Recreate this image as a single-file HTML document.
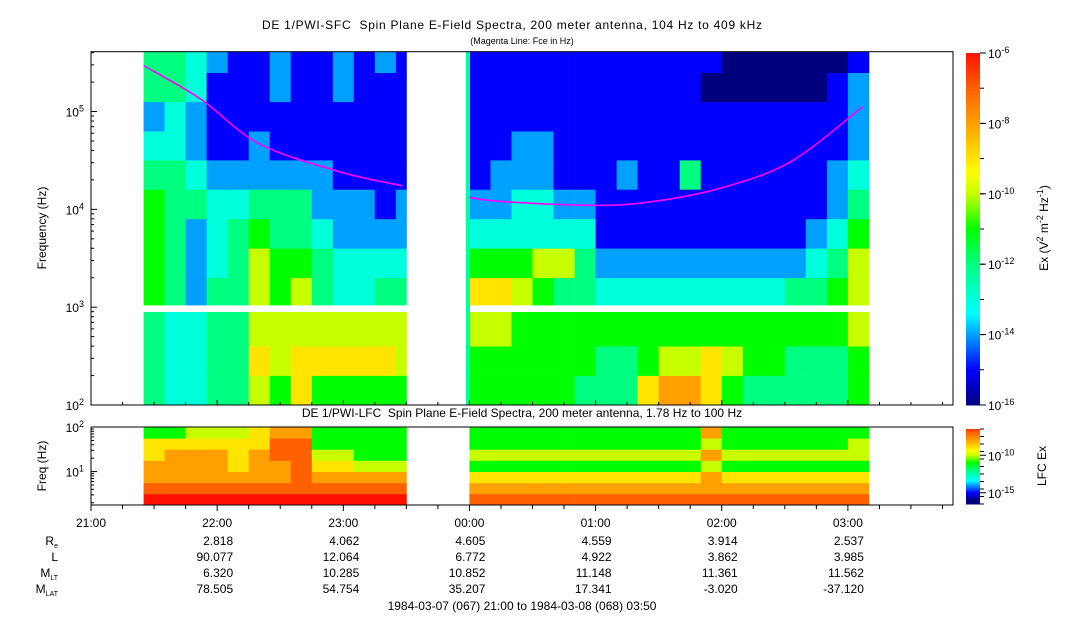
<!DOCTYPE html>
<html><head><meta charset="utf-8">
<style>
html,body{margin:0;padding:0;background:#fff;}
svg{display:block;font-family:"Liberation Sans",Arial,sans-serif;}
</style></head>
<body>
<svg id="chart" width="1083" height="620" viewBox="0 0 1083 620" xmlns="http://www.w3.org/2000/svg">
<rect x="0" y="0" width="1083" height="620" fill="#fff"/>
<text x="262" y="29" textLength="500" lengthAdjust="spacing" font-size="12">DE 1/PWI-SFC&#160; Spin Plane E-Field Spectra, 200 meter antenna, 104 Hz to 409 kHz</text>
<text x="522" y="44" text-anchor="middle" font-size="9">(Magenta Line: Fce in Hz)</text>
<text x="522" y="417" text-anchor="middle" font-size="12">DE 1/PWI-LFC&#160; Spin Plane E-Field Spectra, 200 meter antenna, 1.78 Hz to 100 Hz</text>
<text transform="translate(46,228) rotate(-90)" text-anchor="middle" font-size="12">Frequency (Hz)</text>
<text transform="translate(46,466) rotate(-90)" text-anchor="middle" font-size="12">Freq (Hz)</text>
<text transform="translate(1048,228) rotate(-90)" text-anchor="middle" font-size="12">Ex (V<tspan dy="-5" font-size="9">2</tspan><tspan dy="5"> m</tspan><tspan dy="-5" font-size="9">-2</tspan><tspan dy="5"> Hz</tspan><tspan dy="-5" font-size="9">-1</tspan><tspan dy="5">)</tspan></text>
<text transform="translate(1046,466) rotate(-90)" text-anchor="middle" font-size="12">LFC Ex</text>
<g id="layer"></g>
</svg>
<script>
// ---- data ----
const seg1Edges = [25,35,45,55,65,75,85,95,105,115,125,135,145,150]; // minutes after 21:00
const seg2Edges = [180,190,200,210,220,230,240,250,260,270,280,290,300,310,320,330,340,350,360,370];
const topBandEdges = [100,200,400,1000,2000,4000,8000,16000,32000,63000,126000,250000,409000];
// rows from lowest band to highest; digit d -> log10 power = -16 + d
const seg1Top = [
 "4334465755555",
 "4334476777776",
 "4334466666666",
 "5424465643344",
 "5423465543333",
 "5423454432222",
 "5443344422212",
 "4432222221111",
 "3321121111111",
 "2321111111111",
 "4431112112111",
 "4432112112121"
];
const seg2Top = [
 "5555544478875444445",
 "5555554456676554445",
 "6655555555555555556",
 "7765443333333334456",
 "5556642222222222346",
 "3333331111111111235",
 "2233221111111111124",
 "1222111211411111123",
 "1122111111111111112",
 "1111111111111111112",
 "1111111111100000012",
 "1111111111110000001"
];
const lfcBandEdges = [1.78,3.16,5.62,10,17.8,31.6,56.2,100];
const seg1Lfc = [
 "aaaaaaaaaaaaa",
 "9999999999999",
 "8888888988888",
 "8888788977666",
 "7888789966555",
 "7777779955555",
 "5566678855555"
];
const seg2Lfc = [
 "9999999999999999999",
 "8888888888888888888",
 "7777777777787777777",
 "5555555555565555555",
 "6666666666686666666",
 "5555555555565555556",
 "5555555555585555555"
];
const fceTimes = [25,52,80,119,148,180,196,240,267,300,333,367];
const fceFreqs = [295000,135000,46800,24000,17400,13200,12000,11000,12000,16600,30900,112000];
const timeTicks = ["21:00","22:00","23:00","00:00","01:00","02:00","03:00"];
const rowNames = ["R","L","M","M"];
const rowSubs = ["e","","LT","LAT"];
const ephemRe = ["2.818","4.062","4.605","4.559","3.914","2.537"];
const ephemL = ["90.077","12.064","6.772","4.922","3.862","3.985"];
const ephemMLT = ["6.320","10.285","10.852","11.148","11.361","11.562"];
const ephemMLAT = ["78.505","54.754","35.207","17.341","-3.020","-37.120"];

// ---- geometry ----
const X0=91, X1=953, TMAX=410;
const xs = t => X0 + (X1-X0)*t/TMAX;
const TY0=405, TY1=51.7, TL0=2, TL1=Math.log10(409000);
const ysTop = f => TY0 - (Math.log10(f)-TL0)/(TL1-TL0)*(TY0-TY1);
const BY0=505, BY1=427, BL0=Math.log10(1.78), BL1=2;
const ysBot = f => BY0 - (Math.log10(f)-BL0)/(BL1-BL0)*(BY0-BY1);
const stops=[[-16,[0,0,127]],[-15,[0,0,255]],[-14,[0,160,255]],[-13.4,[0,255,255]],[-12,[0,255,128]],[-11,[0,255,0]],[-10,[200,255,0]],[-9.4,[255,255,0]],[-8,[255,160,0]],[-7,[255,96,0]],[-6,[255,16,0]]];
function col(v){v=Math.max(-16,Math.min(-6,v));for(let i=0;i<stops.length-1;i++){const a=stops[i],b=stops[i+1];if(v<=b[0]){const t=(v-a[0])/(b[0]-a[0]);return 'rgb('+a[1].map((c,k)=>Math.round(c+(b[1][k]-c)*t)).join(',')+')';}}return 'rgb(255,16,0)';}
const NS='http://www.w3.org/2000/svg';
const layer=document.getElementById('layer');
function mk(tag,attrs,parent){const e=document.createElementNS(NS,tag);for(const k in attrs)e.setAttribute(k,attrs[k]);(parent||layer).appendChild(e);return e;}

function drawGrid(edges,bands,rows,ys,gname,skipGap){
  const g=mk('g',{});
  
  
  rows.forEach((row,ri)=>{
    for(let ci=0;ci<row.length;ci++){
      const v=-16+parseInt(row[ci],16);
      let yTop=ys(bands[ri+1]), yBot=ys(bands[ri]);
      if(skipGap && bands[ri+1]===1000) yTop=312;
      if(skipGap && bands[ri]===1000) yBot=305;
      const x0=xs(edges[ci]), x1=xs(edges[ci+1]);
      const r=mk('rect',{x:x0.toFixed(1),y:yTop.toFixed(1),width:(x1-x0+0.4).toFixed(1),height:(yBot-yTop+0.4).toFixed(1),fill:col(v)},g);
      
      
    }
  });
}
drawGrid(seg1Edges,topBandEdges,seg1Top,ysTop,'sfc-segment-1',true);
drawGrid(seg2Edges,topBandEdges,seg2Top,ysTop,'sfc-segment-2',true);
drawGrid(seg1Edges,lfcBandEdges,seg1Lfc,ysBot,'lfc-segment-1',false);
drawGrid(seg2Edges,lfcBandEdges,seg2Lfc,ysBot,'lfc-segment-2',false);
const stripe=mk('rect',{x:466,y:TY1,width:4,height:TY0-TY1,fill:col(-12.4)});


// Fce line (Catmull-Rom smoothed)
function fceSeg(a,b){
  const P=[];for(let i=a;i<=b;i++)P.push([xs(fceTimes[i]),ysTop(fceFreqs[i])]);
  let d='M'+P[0][0].toFixed(1)+','+P[0][1].toFixed(1);
  for(let i=0;i<P.length-1;i++){const p0=P[Math.max(0,i-1)],p1=P[i],p2=P[i+1],p3=P[Math.min(P.length-1,i+2)];
    const c1=[p1[0]+(p2[0]-p0[0])/6,p1[1]+(p2[1]-p0[1])/6],c2=[p2[0]-(p3[0]-p1[0])/6,p2[1]-(p3[1]-p1[1])/6];
    d+='C'+c1.map(v=>v.toFixed(1)).join(',')+' '+c2.map(v=>v.toFixed(1)).join(',')+' '+p2.map(v=>v.toFixed(1)).join(',');}
  const p=mk('path',{d:d,fill:'none',stroke:'#ff00ff','stroke-width':1.6});
  
  }
fceSeg(0,4);fceSeg(5,11);
// frames
const f1=mk('rect',{x:X0,y:TY1,width:X1-X0,height:TY0-TY1,fill:'none',stroke:'#000','stroke-width':1});


const f2=mk('rect',{x:X0,y:BY1,width:X1-X0,height:BY0-BY1,fill:'none',stroke:'#000','stroke-width':1});


function sup(x,y,base,exp,anchor,name){const t=mk('text',{x:x,y:y,'font-size':12,'text-anchor':anchor});
  
  t.innerHTML=base+'<tspan dy="-5" font-size="9">'+exp+'</tspan>';return t;}
for(let e=2;e<=5;e++){
  for(let m=1;m<10;m++){const f=m*Math.pow(10,e);if(f>409000)break;const y=ysTop(f);
    mk('line',{x1:X0,x2:X0+(m===1?6:3),y1:y,y2:y,stroke:'#000'});}
  sup(84,ysTop(Math.pow(10,e))+5,'10',String(e),'end','top-y-tick-label');
}
for(let e=0;e<=2;e++){for(let m=1;m<10;m++){const f=m*Math.pow(10,e);if(f<1.78||f>100)continue;const y=ysBot(f);
  mk('line',{x1:X0,x2:X0+(m===1?6:3),y1:y,y2:y,stroke:'#000'});}}
sup(84,ysBot(100)+5,'10','2','end','bottom-y-tick-label');
sup(84,ysBot(10)+5,'10','1','end','bottom-y-tick-label');
for(let m=0;m<=TMAX;m+=15){const x=xs(m);const maj=m%60===0;
  mk('line',{x1:x,x2:x,y1:BY0,y2:BY0+(maj?6:4),stroke:'#000'});mk('line',{x1:x,x2:x,y1:TY0,y2:TY0-(maj?5:3),stroke:'#000'});}
timeTicks.forEach((s,i)=>{const t=mk('text',{x:xs(i*60),y:527,'font-size':12,'text-anchor':'middle'});t.textContent=s;
  
  });
const ephem=[ephemRe,ephemL,ephemMLT,ephemMLAT];
ephem.forEach((arr,r)=>{const y=545+r*16;
  const lab=mk('text',{x:58,y:y,'font-size':12,'text-anchor':'end'});
  lab.innerHTML=rowNames[r]+(rowSubs[r]?'<tspan dy="3" font-size="7">'+rowSubs[r]+'</tspan>':'');
  
  
  arr.forEach((v,i)=>{const t=mk('text',{x:xs((i+1)*60)+16,y:y,'font-size':12,'text-anchor':'end'});t.textContent=v;
    
    });
});
const dt=mk('text',{x:522,y:610,'font-size':12,'text-anchor':'middle'});dt.textContent='1984-03-07 (067) 21:00 to 1984-03-08 (068) 03:50';


function cbar(y0,y1,vmin,vmax,labels,name,minor){
  const n=100;const h=(y1-y0)/n;
  const g=mk('g',{});
  
  for(let i=0;i<n;i++){const v=vmax-(vmax-vmin)*(i+0.5)/n;mk('rect',{x:966,y:(y0+i*h).toFixed(2),width:14,height:(h+0.5).toFixed(2),fill:col(v)},g);}
  for(let v=vmin;v<=vmax;v+=minor){const y=y1-(v-vmin)/(vmax-vmin)*(y1-y0);mk('line',{x1:980,x2:984,y1:y,y2:y,stroke:'#000'},g);}
  labels.forEach(v=>{const y=y1-(v-vmin)/(vmax-vmin)*(y1-y0);mk('line',{x1:980,x2:986,y1:y,y2:y,stroke:'#000'},g);sup(988,y+5,'10',String(v),'start','colorbar-tick-label');});
}
cbar(53,405,-16,-6,[-6,-8,-10,-12,-14,-16],'sfc-colorbar',1);
cbar(429,504,-16.5,-6.5,[-10,-15],'lfc-colorbar',1);
</script>
</body></html>
